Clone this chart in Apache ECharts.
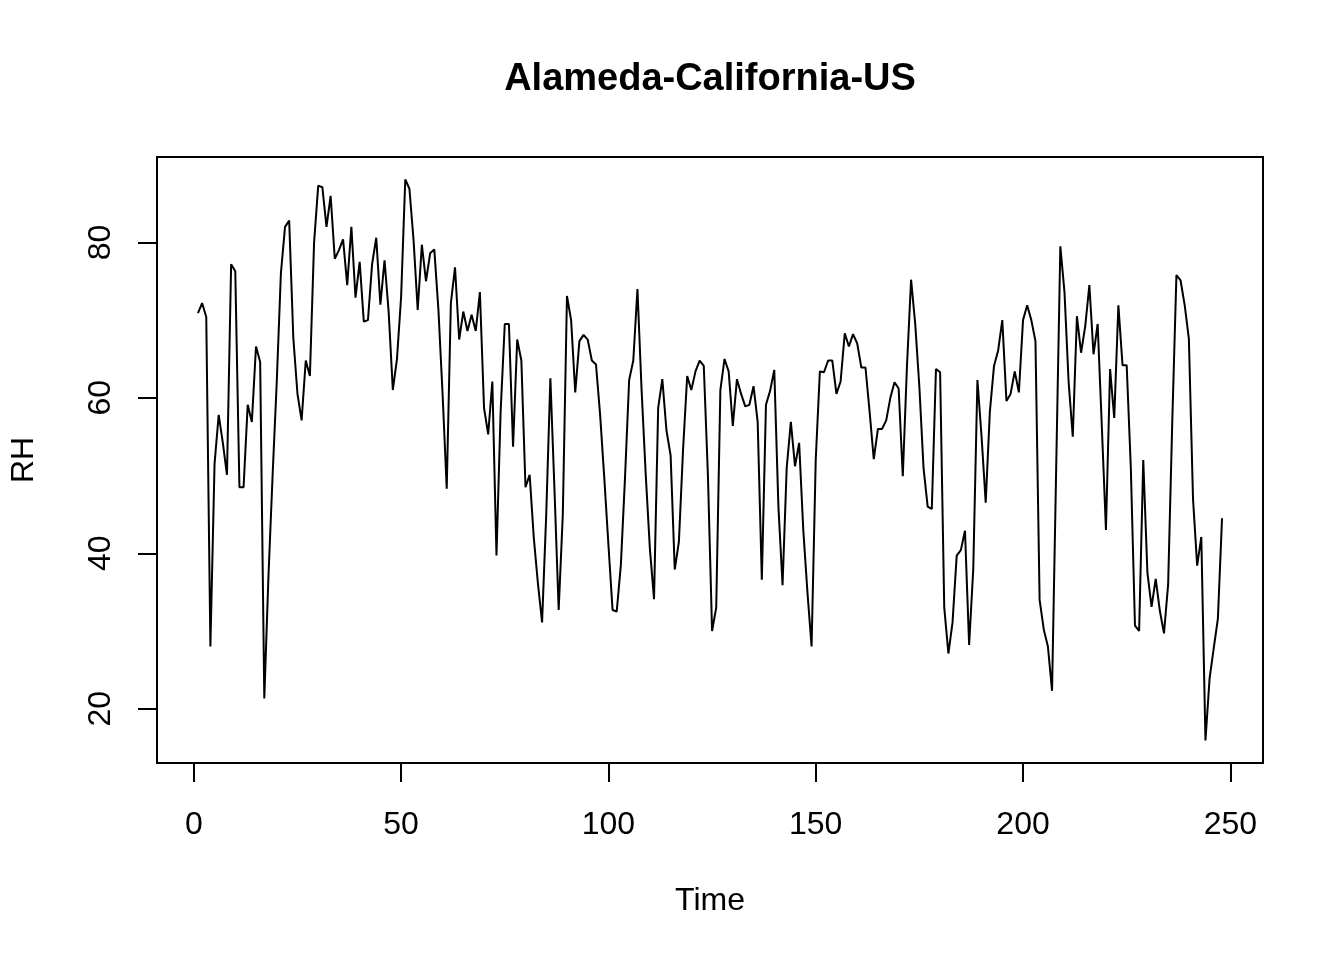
<!DOCTYPE html>
<html>
<head>
<meta charset="utf-8">
<script src="https://cdn.jsdelivr.net/npm/echarts@6/dist/echarts.min.js"></script>
<style>
html,body{margin:0;padding:0;background:#fff;}
#chart{width:1344px;height:960px;}
</style>
</head>
<body>
<div id="chart"></div>
<script>
// Relative humidity series, Time = 1..248
var rh = [
70.9,72.2,70.4,28.0,51.5,57.8,54.2,50.1,77.2,76.3,
48.5,48.5,59.1,56.9,66.6,64.6,21.3,37.0,50.0,62.0,
76.0,82.0,82.8,67.7,60.5,57.1,64.8,62.8,79.9,87.3,
87.1,82.0,86.0,77.9,79.0,80.4,74.5,82.0,72.9,77.5,
69.8,70.0,77.2,80.6,72.0,77.7,71.0,61.0,65.0,73.0,
88.1,86.9,80.3,71.3,79.7,75.0,78.6,79.1,71.3,60.5,
48.3,72.2,76.8,67.5,71.1,68.6,70.7,68.6,73.6,58.7,
55.3,62.1,39.7,58.2,69.5,69.5,53.7,67.5,64.8,48.5,
50.1,42.0,36.1,31.1,45.0,62.5,48.0,32.7,45.0,73.1,
70.0,60.7,67.3,68.1,67.5,64.8,64.3,57.8,49.7,41.1,
32.7,32.5,38.5,49.7,62.3,64.8,74.0,61.0,50.1,40.6,
34.1,58.7,62.4,55.8,52.6,37.9,41.5,53.3,62.8,61.0,
63.4,64.8,64.1,50.0,30.0,33.0,61.0,65.0,63.4,56.4,
62.4,60.5,58.9,59.1,61.5,56.9,36.6,59.1,60.9,63.6,
46.0,35.9,51.0,56.9,51.2,54.2,43.0,35.0,28.0,52.0,
63.4,63.3,64.8,64.8,60.5,62.1,68.3,66.6,68.2,67.0,
63.9,63.9,58.2,52.1,56.0,56.0,57.1,60.0,62.0,61.2,
49.9,64.0,75.2,69.5,61.4,51.0,46.0,45.7,63.7,63.3,
33.0,27.1,31.1,39.7,40.4,42.9,28.2,38.0,62.3,55.0,
46.5,58.2,64.1,66.1,70.0,59.6,60.5,63.4,60.7,70.0,
71.9,70.0,67.3,34.0,30.2,28.0,22.3,51.0,79.5,73.6,
62.0,55.0,70.5,65.8,69.2,74.5,65.6,69.5,56.4,43.0,
63.7,57.4,71.9,64.2,64.2,51.0,30.7,30.0,52.0,37.5,
33.1,36.7,32.6,29.7,36.0,57.0,75.8,75.1,71.9,67.6,
47.0,38.4,42.1,15.9,23.9,27.8,31.6,44.5
];
var xTicks = [0, 50, 100, 150, 200, 250];
var yTicks = [20, 40, 60, 80];
var titleText = 'Alameda-California-US';
var xName = 'Time';
var yName = 'RH';

var seriesData = rh.map(function (v, i) { return [i + 1, v]; });
var n = rh.length;
var xPad = (n - 1) * 0.04;
var ymin = Math.min.apply(null, rh), ymax = Math.max.apply(null, rh);
var yPad = (ymax - ymin) * 0.04;

var chart = echarts.init(document.getElementById('chart'), null, {renderer: 'canvas'});
var font = '"Liberation Sans", Arial, sans-serif';
chart.setOption({
  animation: false,
  backgroundColor: '#ffffff',
  grid: {left: 157, top: 157, width: 1106, height: 606, show: true,
         borderColor: '#000', borderWidth: 2, backgroundColor: 'transparent'},
  xAxis: {
    type: 'value', min: 1 - xPad, max: n + xPad,
    splitLine: {show: false},
    axisLine: {show: false, onZero: false},
    axisTick: {show: true, customValues: xTicks, length: 19, lineStyle: {color: '#000', width: 2}},
    axisLabel: {show: true, customValues: xTicks, color: '#000', fontSize: 32, fontFamily: font, margin: 46}
  },
  yAxis: {
    type: 'value', min: ymin - yPad, max: ymax + yPad,
    splitLine: {show: false},
    axisLine: {show: false, onZero: false},
    axisTick: {show: true, customValues: yTicks, length: 19, lineStyle: {color: '#000', width: 2}},
    axisLabel: {show: true, customValues: yTicks, color: '#000', fontSize: 32, fontFamily: font, margin: 40, rotate: 90}
  },
  graphic: [
    {type: 'text', x: 710, y: 80, style: {text: titleText, font: 'bold 38px ' + font, fill: '#000', textAlign: 'center', textVerticalAlign: 'middle'}},
    {type: 'text', x: 710, y: 901, style: {text: xName, font: '32px ' + font, fill: '#000', textAlign: 'center', textVerticalAlign: 'middle'}},
    {type: 'text', x: 24, y: 460, rotation: Math.PI / 2, style: {text: yName, font: '32px ' + font, fill: '#000', textAlign: 'center', textVerticalAlign: 'middle'}}
  ],
  series: [{
    type: 'line', data: seriesData, showSymbol: false, symbol: 'none',
    lineStyle: {color: '#000', width: 2}, z: 3
  }]
});
</script>
</body>
</html>
